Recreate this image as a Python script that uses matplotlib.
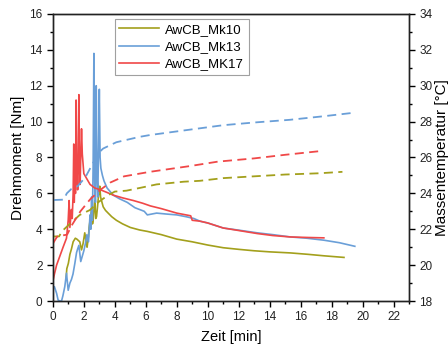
import numpy as np
import matplotlib
matplotlib.use('Agg')
import matplotlib.pyplot as plt
from matplotlib.ticker import MultipleLocator

plt.rcParams['font.family'] = ['Liberation Sans', 'DejaVu Sans']

# Series names and colors:
NAMES = ['AwCB_Mk10', 'AwCB_Mk13', 'AwCB_MK17']
COLORS = ['#a3a01c', '#6a9fd8', '#f04848']

# Torque (left axis) [min], [Nm]
t_mk10 = [0.85, 0.9, 1.0, 1.1, 1.2, 1.31, 1.45, 1.55, 1.74, 1.85, 1.95, 2.06, 2.15, 2.21,
          2.3, 2.34, 2.42, 2.5, 2.56, 2.6, 2.66, 2.71, 2.77, 2.82, 2.9, 2.95, 2.99, 3.03,
          3.08, 3.14, 3.25, 3.4, 3.57, 3.8, 4.1, 4.5, 5.0, 5.6, 6.1, 7.0, 8.0, 9.0, 10.0,
          11.0, 12.0, 13.0, 14.0, 15.35, 16.5, 17.5, 18.8]
m_mk10 = [1.2, 1.8, 2.1, 2.6, 2.9, 3.3, 3.5, 3.45, 3.3, 2.85, 3.2, 3.8, 3.3, 3.0,
          3.6, 4.1, 4.6, 5.1, 4.3, 4.5, 5.2, 5.6, 4.6, 4.7, 5.4, 5.9, 6.0, 6.4,
          5.8, 5.6, 5.25, 5.05, 4.9, 4.7, 4.5, 4.3, 4.1, 3.96, 3.88, 3.7, 3.45, 3.3, 3.12,
          2.97, 2.88, 2.8, 2.74, 2.68, 2.6, 2.52, 2.43]

t_mk13 = [0.0, 0.1, 0.24, 0.34, 0.45, 0.56, 0.65, 0.77, 0.88, 0.99, 1.1, 1.2, 1.3, 1.42,
          1.53, 1.6, 1.68, 1.8, 1.9, 2.0, 2.1, 2.2, 2.3, 2.4, 2.45, 2.5, 2.55, 2.6, 2.65,
          2.7, 2.75, 2.8, 2.85, 2.9, 2.95, 3.0, 3.05, 3.1, 3.2, 3.3, 3.5, 3.9, 4.3, 4.8,
          5.3, 5.9, 6.1, 6.4, 6.7, 7.3, 8.0, 8.6, 9.1, 9.5, 10.0, 11.0, 12.0, 13.2, 14.2,
          15.35, 16.4, 17.5, 18.5, 19.5]
m_mk13 = [0.7, 0.8, 0.43, 0.05, 0.0, 0.0, 0.3, 0.8, 1.55, 0.6, 1.0, 1.2, 1.5, 2.1,
          2.7, 2.9, 3.1, 2.2, 2.5, 2.8, 3.2, 3.7, 3.3, 4.8, 4.0, 5.8, 4.5, 7.5, 13.8,
          6.5, 5.5, 12.0, 7.0, 5.8, 8.5, 11.8, 8.0, 7.4, 7.0, 6.7, 6.3, 5.9, 5.7, 5.5,
          5.2, 5.0, 4.8, 4.85, 4.9, 4.85, 4.8, 4.7, 4.6, 4.45, 4.35, 4.07, 3.95, 3.8, 3.7,
          3.57, 3.5, 3.39, 3.25, 3.05]

t_mk17 = [0.0, 0.1, 0.24, 0.45, 0.66, 0.88, 0.99, 1.05, 1.1, 1.2, 1.25, 1.31, 1.35, 1.38,
          1.42, 1.46, 1.5, 1.53, 1.57, 1.6, 1.64, 1.68, 1.72, 1.76, 1.8, 1.85, 1.9, 2.0,
          2.2, 2.4, 2.7, 3.07, 3.5, 3.9, 4.5, 5.2, 5.8, 6.3, 7.0, 8.0, 8.6, 8.9, 9.0,
          9.5, 10.0, 11.0, 12.0, 13.2, 14.2, 15.35, 16.5, 17.5]
m_mk17 = [1.1, 1.5, 2.0, 2.5, 3.0, 3.5, 4.5, 5.6, 4.1, 5.1, 4.6, 6.0, 8.75, 5.5,
          7.0, 6.0, 11.2, 6.5, 8.0, 6.2, 9.0, 11.5, 7.5, 6.5, 8.0, 9.6, 8.2, 7.1,
          6.8, 6.5, 6.3, 6.2, 6.05, 5.9, 5.75, 5.6, 5.45, 5.3, 5.15, 4.9, 4.8, 4.75, 4.5,
          4.45, 4.35, 4.07, 3.93, 3.76, 3.65, 3.57, 3.54, 3.52]

# Melt temperature (right axis) [min], [°C]
tt_mk10 = [0.0, 0.4, 0.6, 1.1, 1.74, 2.39, 2.92, 3.57, 4.0, 4.75, 5.6, 6.7, 8.45, 9.5,
           11.0, 13.0, 15.0, 17.2, 18.7]
T_mk10 = [21.6, 21.6, 21.9, 22.3, 22.8, 23.07, 23.5, 23.9, 24.1, 24.15, 24.3, 24.5, 24.65,
          24.7, 24.85, 24.95, 25.05, 25.12, 25.2]

tt_mk13 = [0.06, 0.7, 0.9, 1.2, 1.6, 2.1, 2.6, 3.0, 3.25, 4.1, 5.6, 6.26, 8.4, 11.0, 13.0,
           15.3, 17.5, 19.5]
T_mk13 = [23.63, 23.65, 24.0, 24.25, 24.4, 24.9, 25.7, 26.3, 26.5, 26.85, 27.15, 27.25,
          27.5, 27.8, 27.95, 28.1, 28.3, 28.5]

tt_mk17 = [0.0, 0.28, 0.92, 1.25, 1.78, 2.4, 3.07, 3.7, 4.6, 6.26, 8.84, 10.66, 13.0, 15.0,
           17.2]
T_mk17 = [21.2, 21.6, 21.7, 22.26, 23.0, 23.66, 24.2, 24.6, 24.95, 25.2, 25.52, 25.77,
          25.95, 26.15, 26.35]

XTICKS = list(range(0, 23, 2))

fig = plt.figure(figsize=(4.48, 3.49), dpi=100)
ax = fig.add_axes([0.118, 0.1375, 0.795, 0.8225])
ax2 = ax.twinx()

torque = [(t_mk10, m_mk10), (t_mk13, m_mk13), (t_mk17, m_mk17)]
temps = [(tt_mk10, T_mk10), (tt_mk13, T_mk13), (tt_mk17, T_mk17)]

handles = []
for (t, m), name, c in zip(torque, NAMES, COLORS):
    h, = ax.plot(t, m, color=c, lw=1.2, label=name)
    handles.append(h)
for (t, T), c in zip(temps, COLORS):
    ax2.plot(t, T, color=c, lw=1.3, linestyle=(0, (5, 3)))

ax.set_xlim(0, 23)
ax.set_ylim(0, 16)
ax2.set_ylim(18, 34)
ax.set_xticks(XTICKS)
ax.xaxis.set_minor_locator(MultipleLocator(1))
ax.yaxis.set_major_locator(MultipleLocator(2))
ax.yaxis.set_minor_locator(MultipleLocator(1))
ax2.yaxis.set_major_locator(MultipleLocator(2))
ax2.yaxis.set_minor_locator(MultipleLocator(1))

for a in (ax, ax2):
    a.tick_params(which='major', direction='out', length=4, width=1, labelsize=8.5,
                  labelcolor='#222222')
    a.tick_params(which='minor', direction='out', length=2.5, width=1)
    for s in a.spines.values():
        s.set_linewidth(1)
        s.set_color('#222222')

ax.set_xlabel('Zeit [min]', fontsize=10.5, labelpad=5)
ax.set_ylabel('Drehmoment [Nm]', fontsize=11, labelpad=3)
ax2.set_ylabel('Massentemperatur [°C]', fontsize=11, labelpad=2)

leg = ax.legend(handles=handles, loc='upper left', bbox_to_anchor=(0.155, 1.005),
                fontsize=9.5, frameon=True, fancybox=False, handlelength=3.0,
                borderpad=0.35, labelspacing=0.38, handletextpad=0.5)
leg.get_frame().set_edgecolor('#888888')
leg.get_frame().set_linewidth(0.8)

fig.savefig('out.png', dpi=100)
